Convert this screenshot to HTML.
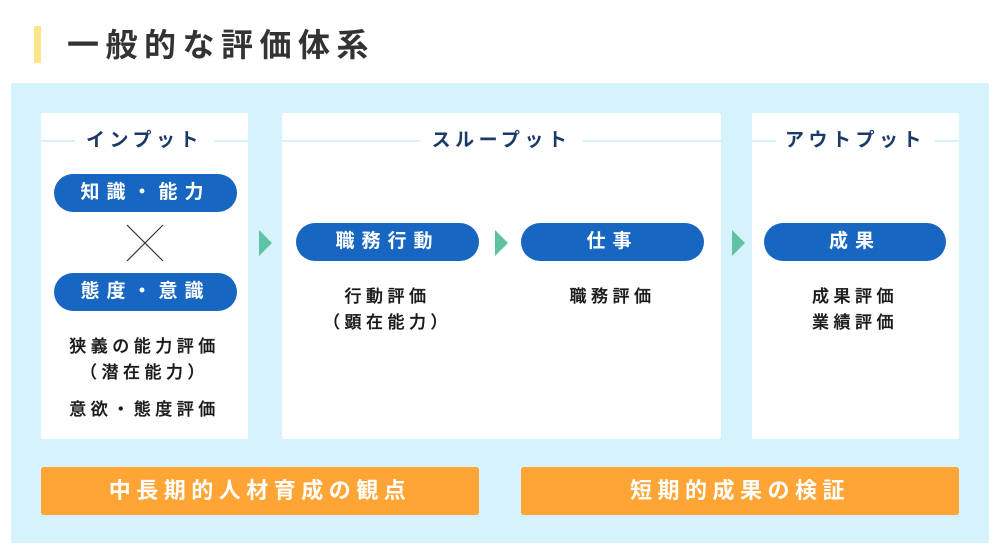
<!DOCTYPE html>
<html><head><meta charset="utf-8"><style>
*{margin:0;padding:0;box-sizing:border-box}
body{width:1000px;height:555px;background:#fff;position:relative;overflow:hidden;font-family:"Liberation Sans","Noto Sans CJK JP",sans-serif}
.a{position:absolute}
.bar{left:34px;top:26px;width:7px;height:37px;background:#fde68a}
.title{left:67px;top:24px;font-size:32px;font-weight:bold;color:#333;letter-spacing:6.5px;line-height:42px}
.bg{left:11px;top:83px;width:978px;height:460px;background:#d6f2fc}
.panel{background:#fff;top:113px;height:326px;border-radius:2px}
.hd{top:128px;height:26px;font-size:19px;font-weight:bold;color:#1c3a66;letter-spacing:4.5px;text-align:center;line-height:26px}
.line{top:140px;height:2px;background:#d6f2fc}
.pill{background:#1767c2;color:#fff;border-radius:19px;height:38px;line-height:38px;text-align:center;font-size:19px;font-weight:bold;letter-spacing:7px}
.txt{font-size:17px;color:#1a1a1a;text-align:center;line-height:26px;letter-spacing:4.5px;font-weight:500;-webkit-text-stroke:0.3px #1a1a1a}
.tri{width:0;height:0;border-top:13px solid transparent;border-bottom:13px solid transparent;border-left:13px solid #5fc2a2;top:230px}
.or{top:467px;height:48px;background:#fea535;border-radius:3px;color:#fff;font-size:22px;font-weight:bold;text-align:center;line-height:48px;letter-spacing:5.5px}
</style></head><body>
<div class="a bar"></div>
<div class="a title">一般的な評価体系</div>
<div class="a bg"></div>
<div class="a panel" style="left:41px;width:207px"></div>
<div class="a panel" style="left:282px;width:439px"></div>
<div class="a panel" style="left:752px;width:207px"></div>

<div class="a line" style="left:41px;width:34px"></div>
<div class="a line" style="left:214px;width:34px"></div>
<div class="a hd" style="left:41px;width:207px">インプット</div>
<div class="a line" style="left:282px;width:138px"></div>
<div class="a line" style="left:583px;width:138px"></div>
<div class="a hd" style="left:282px;width:439px">スループット</div>
<div class="a line" style="left:752px;width:24px"></div>
<div class="a line" style="left:935px;width:24px"></div>
<div class="a hd" style="left:752px;width:207px">アウトプット</div>

<div class="a pill" style="left:54px;top:174px;width:183px">知識・能力</div>
<svg class="a" style="left:125px;top:224px" width="40" height="38"><path d="M2 1L38 37M38 1L2 37" stroke="#334" stroke-width="1.2"/></svg>
<div class="a pill" style="left:54px;top:273px;width:183px">態度・意識</div>
<div class="a txt" style="left:41px;top:334px;width:207px">狭義の能力評価<br>（潜在能力）</div>
<div class="a txt" style="left:41px;top:397px;width:207px">意欲・態度評価</div>

<div class="a tri" style="left:259px"></div>
<div class="a pill" style="left:296px;top:223px;width:183px">職務行動</div>
<div class="a tri" style="left:495px"></div>
<div class="a pill" style="left:521px;top:223px;width:183px">仕事</div>
<div class="a tri" style="left:732px"></div>
<div class="a pill" style="left:764px;top:223px;width:182px">成果</div>

<div class="a txt" style="left:296px;top:284px;width:183px">行動評価<br>（顕在能力）</div>
<div class="a txt" style="left:521px;top:284px;width:183px">職務評価</div>
<div class="a txt" style="left:764px;top:284px;width:182px">成果評価<br>業績評価</div>

<div class="a or" style="left:41px;width:438px">中長期的人材育成の観点</div>
<div class="a or" style="left:521px;width:438px">短期的成果の検証</div>
</body></html>
